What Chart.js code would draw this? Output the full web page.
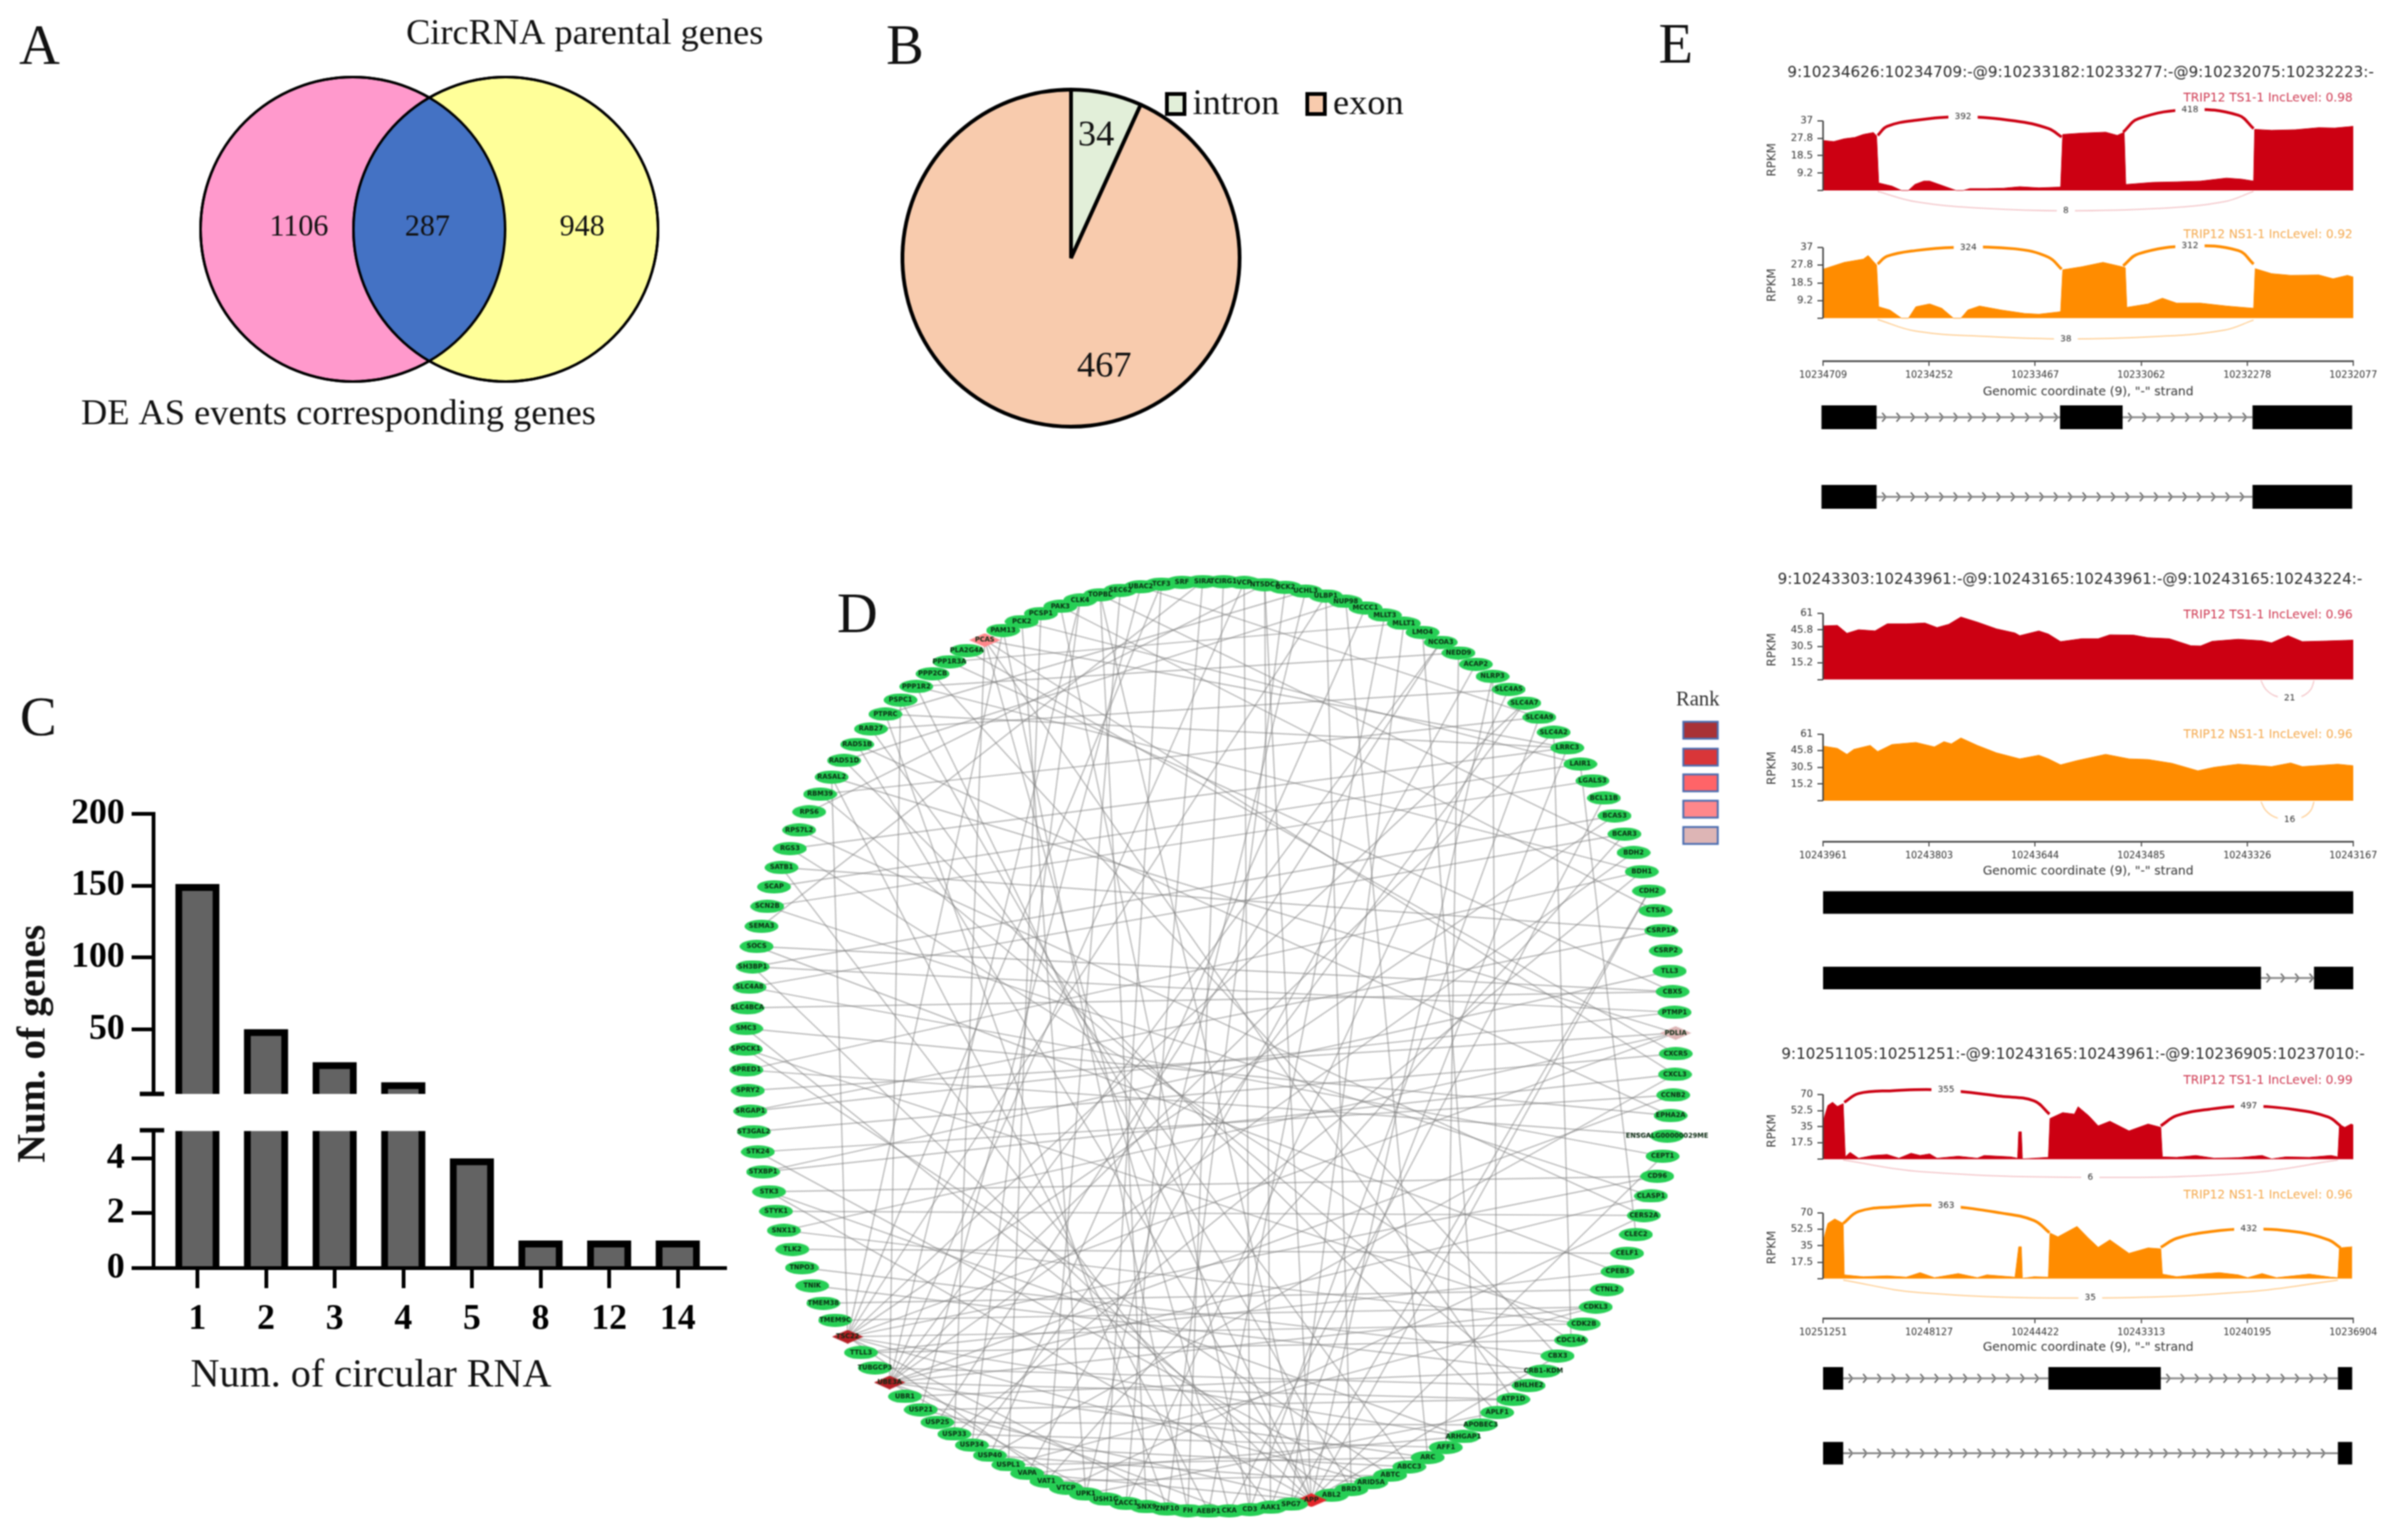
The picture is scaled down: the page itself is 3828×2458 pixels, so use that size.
<!DOCTYPE html>
<html><head><meta charset="utf-8">
<script src="https://cdn.jsdelivr.net/npm/chart.js@4"></script>
<style>html,body{margin:0;padding:0;background:#fff;width:3828px;height:2458px;overflow:hidden;position:relative}canvas{position:absolute;display:block}</style>
</head><body>
<script>
/* ---------- data: panels A, B, C ---------- */
const vennLabels=['DE AS events corresponding genes','CircRNA parental genes'];
const vennCounts=[1106,287,948];
const pieLabels=['intron','exon'];
const pieValues=[34,467];
const circCategories=['1','2','3','4','5','8','12','14'];
const circGenes=[151,50,27,13,4,1,1,1];
const rankColors=['#A83236','#D93639','#FF6468','#FF878B','#DDB5B5'];

/* ---------- data: panel D (read around the ring, clockwise from the top) ---------- */
const nodeNames=['SIRA','TCIRG1','VCP','NT5DC3','UCK2','UCHL3','ULBP1','NUP98','MCCC1','MLLT3','MLLT1','LMO4','NCOA3','NEDD9',
'ACAP2','NLRP3','SLC4A5','SLC4A7','SLC4A9','SLC4A2','LRRC3','LAIR1','LGALS3','BCL11B','BCAS3','BCAR3','BDH2','BDH1','CDH2','CTSA','CSRP1A','CSRP2','TLL3','CBX5','PTMP1','PDLIA',
'CXCR5','CXCL3','CCNB2','EPHA2A','ENSGALG00000029ME','CEPT1','CD96','CLASP1','CERS2A','CLEC2','CELF1','CPEB3','CTNL2','CDKL3','CDK2B','CDC14A','CBX3','CRB1-KDM','BHLHE2','ATP1D','APLF1','APOBEC3','ARHGAP1','AFF1','ARC','ABCC3','ABTC','ARID5A','BRD3','ABL2','APP',
'SPG7','AAK1','CD3','CKA','AEBP1','FH','ZNF10','SNX9','LACC1','USH1G','UPK1','VTCP','VAT1','VAPA','USPL1','USP40','USP34','USP33','USP25','USP21','UBR1','UBE3A','TUBGCP3','TTLL3','TSC22','TMEM9C','TMEM38','TNIK','TNPO3','TLK2','SNX13','STYK1','STK3','STXBP1','STK24','ST3GAL2','SRGAP1','SPRY2','SPRED1','SPOCK1','SMC3','SLC4BCA','SLC4A8','SH3BP1','SOCS','SEMA3','SCN2B','SCAP','SATB1','RGS3','RPS7L2','RPS6','RBM39','RASAL2','RAD51D','RAD51B','RAB27','PTPRC','PSPC1','PPP1R2','PPP2CB','PPP1R3A','PLA2G4A','PCAS','PAM13','PCK2','PCSP1','PAK3','CLK4','TOPBL','SEC62','UBAC2','TCF3','SRF'];
const rankedNodes={88:0,91:0,66:1,130:3,35:4};
const networkEdges=[[66,122],[66,110],[66,99],[66,86],[66,80],[66,3],[66,15],[66,28],[66,41],[66,52],[66,136],[66,126],
[88,2],[88,12],[88,19],[88,26],[88,38],[88,43],[88,49],[88,55],[88,60],[88,70],[88,76],[88,135],[88,125],
[91,6],[91,17],[91,24],[91,35],[91,42],[91,50],[91,58],[91,63],[91,72],[91,78],[91,139],[91,131],[91,120],
[130,70],[130,55],[130,37],[130,20],[130,84],
[108,33],[109,41],[110,34],[111,33],[107,39],[105,40],[104,35],[103,34],[102,36],[101,38],[100,37],[99,42],[98,44],[97,50],[96,46],[95,52],[94,53],[93,48],[92,49],[90,47],[89,54],[87,53],[86,55],[85,57],[84,59],[83,61],[82,63],[81,60],[80,58],[79,62],[77,56],
[0,75],[1,72],[2,69],[3,68],[4,73],[5,77],[6,64],[7,60],[8,82],[9,71],[10,67],[11,57],[12,85],[13,59],[14,80],[15,56],[16,75],[17,83],[18,69],[19,51],[20,68],[21,45],[23,70],[25,79],[27,84],[28,67],[131,72],[132,77],[133,81],[134,69],[135,83],[136,74],[137,79],[138,86],[139,76],
[0,112],[3,118],[5,124],[7,121],[10,128],[13,126],[16,123],[18,119],[20,116],[22,113],[25,109],[27,105],[30,103],[32,100],[35,97],[21,114],[24,110],[134,29],[136,26],[138,18],[132,21],[129,36],[128,33],[126,27],[124,20],[122,39],[120,35],[117,44],[115,30],[113,43],[111,47],[106,50],[116,51],[119,54],[121,56],[123,61],[125,64],[127,52],
[37,82],[44,78],[49,81],[51,90],[62,106],[65,107],[68,115],[71,120],[73,124],[63,101],[58,99]];

/* ---------- data: panel E, [position 0-1000, RPKM] ---------- */
const covA1=[[0,26.6],[20,26],[40,27.5],[60,28.2],[76,29.8],[95,30.8],[101,29],[105,4],[130,2.3],[148,0],[161,0],[173,3.2],[190,5],[201,5],[228,2.3],[251,0],[264,0],[277,1],[309,1],[340,1.2],[371,2],[407,1.4],[448,1.8],[452,29.8],[488,30.5],[533,31],[555,29.3],[568,31],[571,3.2],[622,4.3],[667,4.6],[712,5],[761,6.6],[790,6],[812,5],[814,32.5],[846,32],[891,32.3],[935,33.4],[965,33.2],[1000,34.1]];
const covA2=[[0,25.7],[40,29.3],[76,31],[85,32.9],[101,27.9],[105,6],[126,4.3],[148,0],[161,0],[175,6],[201,7.5],[224,5.2],[246,0],[260,0],[273,4.3],[295,6.4],[336,4.3],[380,2.5],[407,2.1],[448,3.4],[452,25.4],[488,27],[528,29.3],[564,27],[570,26.5],[573,5.7],[613,7.5],[640,10.5],[667,7.9],[712,7.9],[761,6.4],[812,5.2],[815,26],[846,23.4],[882,22.5],[935,22.7],[962,20.7],[989,22.5],[1000,21.6]];
const covB1=[[0,49.5],[27,50],[45,42.7],[67,46],[98,44.9],[121,51.4],[157,51.4],[192,52.2],[215,48],[237,51],[260,57.7],[291,53],[327,46.8],[362,43],[371,40.5],[407,44.9],[425,42],[448,35],[488,37.7],[519,37.7],[541,41.3],[586,41],[613,38.6],[653,37.7],[694,31.2],[712,31],[734,35.3],[783,37.2],[828,35.8],[846,33.9],[877,40.5],[904,35],[950,35.6],[1000,36.4]];
const covB2=[[0,50],[27,47.9],[45,42.4],[58,47],[89,50.6],[103,45],[130,51.4],[175,53.3],[210,49.2],[228,54],[242,52],[260,57.4],[291,50.6],[327,43.8],[371,38.3],[407,41.6],[425,38.3],[448,32.8],[479,36.7],[533,42.4],[577,38.3],[613,37.7],[658,34.2],[707,27.4],[738,30.6],[783,33.4],[846,31.2],[882,34.5],[904,31.2],[971,33.4],[1000,32]];
const covC1=[[0,40.8],[9,58],[18,61.5],[27,57],[38,60],[42,2.5],[51,7.3],[67,1],[94,4],[121,5],[143,1],[166,6.4],[183,4],[201,5.7],[215,1],[255,3.2],[291,1],[304,4],[354,2.5],[367,1],[369,29.6],[374,29.6],[376,0.3],[398,1],[425,2],[428,44],[452,50.3],[474,48.7],[481,56.7],[501,47],[519,36],[541,41],[577,30.6],[613,38],[637,34.4],[640,2.5],[667,2],[703,4],[738,1],[783,1.6],[828,4],[846,0.3],[873,2.5],[917,2],[958,4],[971,2.5],[974,37.6],[984,34.4],[996,38],[1000,37]];
const covC2=[[0,39.8],[9,58.9],[22,63.7],[38,58.9],[40,4],[76,2],[121,3],[157,1.6],[183,6.4],[210,1],[255,5.4],[291,1],[309,4],[362,1.6],[369,34],[374,34],[376,0.3],[398,2],[425,1.6],[428,48.7],[443,44.6],[479,55.7],[501,43],[519,33.4],[541,41.4],[577,27],[613,32.8],[637,31.8],[640,4.8],[667,2],[712,4.8],[747,6.4],[783,4],[801,1],[828,5.4],[855,1],[917,4.8],[958,1.6],[971,1],[974,32.8],[998,34]];

const arcsA1=[[[103,29.3],[121,34.1],[175,37.3],[264,39.1],[362,37],[425,32.9],[450,28.4]],[[566,31],[595,38.2],[692,43],[783,40],[812,32.9]],[[103,-0.5],[175,-6],[309,-9.6],[458,-10.8],[631,-9.6],[756,-6],[812,-0.5]]];
const arcsA2=[[[103,28.4],[121,32.5],[175,35.5],[246,37.1],[362,36.4],[425,32],[450,25.7]],[[566,27.5],[595,33.8],[692,37.9],[783,35.5],[812,28.4]],[[103,-0.7],[175,-6.8],[309,-9.6],[458,-10.9],[631,-9.6],[756,-6.3],[812,-1]]];
const arcsB1=[[[826,-1],[835,-9],[852,-15],[880,-17.5],[905,-15],[920,-9],[926,-1]]];
const arcsB2=[[[826,-1],[835,-9],[852,-15],[880,-17.5],[905,-15],[920,-9],[926,-1]]];
const arcsC1=[[[40,61.5],[67,71],[130,74],[219,75],[336,68],[398,63],[427,48.7]],[[637,36],[667,47],[729,54],[801,57.3],[891,53.5],[953,45.5],[976,36]],[[38,-1],[183,-13.4],[504,-19.7],[801,-15],[971,-1]]];
const arcsC2=[[[38,58.9],[67,71.6],[130,76.4],[219,78],[336,70],[398,62],[427,49]],[[637,33.4],[667,43],[729,50],[801,53],[891,50],[953,41.4],[976,32.8]],[[38,-1.6],[183,-15],[504,-20.7],[801,-14],[971,-1.6]]];

const arcTextA1=[['392',264,39.1],['418',692,43],['8',458,-10.8]];
const arcTextA2=[['324',274,37.1],['312',692,37.9],['38',458,-10.9]];
const arcTextB1=[['21',880,-17.5]];
const arcTextB2=[['16',880,-17.5]];
const arcTextC1=[['355',232,75],['497',803,57.3],['6',504,-19.7]];
const arcTextC2=[['363',232,78],['432',803,53],['35',504,-20.7]];

const rpkmTicksA=[0,9.2,18.5,27.8,37];
const rpkmTicksB=[0,15.2,30.5,45.8,61];
const rpkmTicksC=[0,17.5,35,52.5,70];
const coordTicksA=['10234709','10234252','10233467','10233062','10232278','10232077'];
const coordTicksB=['10243961','10243803','10243644','10243485','10243326','10243167'];
const coordTicksC=['10251251','10248127','10244422','10243313','10240195','10236904'];
const exonsA=[[[-3,101],[447,565],[810,998]],[[-3,101],[810,998]]];
const exonsB=[[[0,1000]],[[0,826],[926,1000]]];
const exonsC=[[[0,38],[425,637],[971,998]],[[0,38],[971,998]]];

/* ---------- helpers ---------- */
const SERIF='"Liberation Serif"', SANS='"DejaVu Sans"';
function notesPlugin(box,items){return {id:'notes',afterDatasetsDraw(chart){
  const ctx=chart.ctx;
  for(const n of items){
    ctx.save();
    if(n.rect){
      ctx.fillStyle=n.fill;ctx.fillRect(n.rect[0]-box.x,n.rect[1]-box.y,n.rect[2],n.rect[3]);
      if(n.stroke){ctx.strokeStyle=n.stroke;ctx.lineWidth=n.lw;ctx.strokeRect(n.rect[0]-box.x,n.rect[1]-box.y,n.rect[2],n.rect[3]);}
    }else{
      const x=n.sx!==undefined?chart.scales.x.getPixelForValue(n.sx):n.x-box.x;
      const y=n.sy!==undefined?chart.scales.y.getPixelForValue(n.sy):n.y-box.y;
      ctx.font=n.font;ctx.textAlign=n.align||'center';ctx.textBaseline='middle';
      ctx.translate(x,y);if(n.rot)ctx.rotate(n.rot);
      if(n.bg){const w=ctx.measureText(n.t).width+n.pad*2;ctx.fillStyle=n.bg;ctx.fillRect(-w/2,-9,w,18);}
      ctx.fillStyle=n.color||'#111';
      if(n.w)ctx.fillText(n.t,0,0,n.w);else ctx.fillText(n.t,0,0);
    }
    ctx.restore();
  }
}};}
function mk(box,cfg,blur,items){
  const c=document.createElement('canvas');
  c.width=box.w;c.height=box.h;
  c.style.left=box.x+'px';c.style.top=box.y+'px';c.style.width=box.w+'px';c.style.height=box.h+'px';
  if(blur)c.style.filter='blur('+blur+'px)';
  document.body.appendChild(c);
  cfg.options=cfg.options||{};
  Object.assign(cfg.options,{responsive:false,maintainAspectRatio:false,animation:false,devicePixelRatio:1,events:[]});
  cfg.options.layout=Object.assign({autoPadding:false},cfg.options.layout||{});
  cfg.options.plugins=Object.assign({legend:{display:false},tooltip:{enabled:false}},cfg.options.plugins||{});
  cfg.plugins=(cfg.plugins||[]).concat(items?[notesPlugin(box,items)]:[]);
  return new Chart(c,cfg);
}

/* ---------- panel A ---------- */
(function(){
  const box={x:0,y:0,w:1300,h:760};
  const cx=685,cy=366,half=122,rPx=243;
  const lens={id:'lens',afterDatasetsDraw(chart){
    const pts=chart.getDatasetMeta(0).data,ctx=chart.ctx;
    const a=pts[0],b=pts[1];
    ctx.save();ctx.beginPath();ctx.arc(a.x,a.y,rPx,0,Math.PI*2);ctx.clip();
    ctx.beginPath();ctx.arc(b.x,b.y,rPx,0,Math.PI*2);ctx.fillStyle='#4472C4';ctx.fill();ctx.restore();
    ctx.save();ctx.strokeStyle='#000';ctx.lineWidth=4;
    for(const p of [a,b]){ctx.beginPath();ctx.arc(p.x,p.y,rPx,0,Math.PI*2);ctx.stroke();}
    ctx.restore();
  }};
  const f48='48px '+SERIF,f58='58px '+SERIF,f90='90px '+SERIF;
  mk(box,{type:'bubble',plugins:[lens],data:{datasets:[{data:[{x:-1,y:0,r:rPx},{x:1,y:0,r:rPx}],backgroundColor:['#FF99CC','#FFFF99'],borderColor:'#000',borderWidth:4,clip:false}]},
    options:{layout:{padding:0},scales:{
      x:{type:'linear',display:false,min:(box.x-cx)/half,max:(box.x+box.w-cx)/half},
      y:{type:'linear',display:false,min:-(box.h-cy)/half,max:cy/half}}}},0.8,[
    {t:'A',x:63,y:78,font:f90},
    {t:vennLabels[1],x:933,y:55,font:f58},
    {t:vennLabels[0],x:540,y:662,font:f58},
    {t:String(vennCounts[0]),x:477,y:363,font:f48},
    {t:String(vennCounts[1]),x:682,y:363,font:f48},
    {t:String(vennCounts[2]),x:929,y:363,font:f48}]);
})();

/* ---------- panel B ---------- */
(function(){
  const box={x:1400,y:20,w:900,h:720};
  const f58='58px '+SERIF;
  mk(box,{type:'pie',data:{labels:pieLabels,datasets:[{data:pieValues,backgroundColor:['#E2EFD9','#F8CBAD'],borderColor:'#000',borderWidth:6}]},
    options:{layout:{padding:{left:37,top:120,right:319,bottom:56}}}},0.8,[
    {t:'B',x:1444,y:78,font:'90px '+SERIF},
    {t:String(pieValues[0]),x:1749,y:217,font:f58},
    {t:String(pieValues[1]),x:1762,y:586,font:f58},
    {rect:[1862,150,28,32],fill:'#E2EFD9',stroke:'#000',lw:6},
    {rect:[2086,150,28,32],fill:'#F8CBAD',stroke:'#000',lw:6},
    {t:pieLabels[0],x:1903,y:167,font:f58,align:'left'},
    {t:pieLabels[1],x:2127,y:167,font:f58,align:'left'}]);
})();

/* ---------- panel C ---------- */
(function(){
  const xStart=315,xStep=109.5,axisL=245,axisR=1157,capFrom=223,capTo=262;
  const xMin=(axisL-xStart)/xStep,xMax=(axisR-xStart)/xStep;
  const bars=circGenes.map((v,i)=>({x:i,y:v}));
  const tickFont={family:SERIF,weight:'bold',size:57};
  const xBase={type:'linear',min:xMin,max:xMax,offset:false,grid:{offset:false,display:false}};
  const yCommon=(vals,w)=>({type:'linear',position:'left',afterFit(s){s.width=w;},
    afterBuildTicks(s){s.ticks=vals.map(v=>({value:v}));},
    border:{color:'#000',width:6},
    grid:{drawOnChartArea:false,color:'#000',lineWidth:6,tickLength:35},
    ticks:{color:'#000',font:tickFont,padding:11,autoSkip:false,maxRotation:0}});
  const cap=(box,yPx)=>({id:'cap',afterDraw(chart){const c=chart.ctx;c.save();c.strokeStyle='#000';c.lineWidth=7;c.beginPath();c.moveTo(capFrom-box.x,yPx-box.y);c.lineTo(capTo-box.x,yPx-box.y);c.stroke();c.restore();}});
  const upper={x:0,y:1100,w:1200,h:800};
  const yU=yCommon([50,100,150,200],axisL-upper.x);yU.min=5;yU.max=200;
  mk(upper,{type:'bar',plugins:[cap(upper,1746)],data:{datasets:[{data:bars,backgroundColor:'#636363',borderColor:'#000',borderWidth:11,barThickness:70,borderSkipped:'bottom'}]},
    options:{layout:{padding:{top:1299-upper.y,bottom:upper.y+upper.h-1746,right:upper.x+upper.w-axisR}},
      scales:{x:Object.assign({},xBase,{display:false}),y:yU}}},0.8,[
    {t:'C',x:61,y:1150,font:'88px '+SERIF},
    {t:'Num. of genes',x:55,y:1666,font:'bold 63px '+SERIF,rot:-Math.PI/2}]);
  const lower={x:0,y:1760,w:1200,h:460};
  const yL=yCommon([0,2,4],axisL-lower.x);yL.min=0;yL.max=5;
  mk(lower,{type:'bar',plugins:[cap(lower,1804)],data:{datasets:[{data:bars,backgroundColor:'#636363',borderColor:'#000',borderWidth:11,barThickness:70,borderSkipped:'bottom'}]},
    options:{layout:{padding:{top:1804-lower.y,right:lower.x+lower.w-axisR}},
      scales:{
        x:Object.assign({},xBase,{afterFit(s){s.height=lower.y+lower.h-2024;},
          afterBuildTicks(s){s.ticks=circCategories.map((_,i)=>({value:i}));},
          border:{color:'#000',width:6},
          grid:{display:true,offset:false,drawOnChartArea:false,color:'#000',lineWidth:6,tickLength:32},
          ticks:{color:'#000',font:tickFont,padding:16,autoSkip:false,maxRotation:0,callback:v=>circCategories[v]}}),
        y:yL}}},0.8,[
    {t:'Num. of circular RNA',x:592,y:2196,font:'64px '+SERIF}]);
})();

/* ---------- panel D ---------- */
(function(){
  const box={x:1150,y:900,w:1650,h:1558};
  const cx=1932,cy=1670,R=742,N=nodeNames.length,offset=-1;
  const pos=i=>{const t=(i*360/N+offset)*Math.PI/180;return {x:Math.sin(t),y:Math.cos(t)};};
  const mkImg=(w,h,fill,diamond)=>{const c=document.createElement('canvas');c.width=w;c.height=h;const g=c.getContext('2d');g.fillStyle=fill;g.beginPath();
    if(diamond){g.moveTo(0,h/2);g.lineTo(w/2,0);g.lineTo(w,h/2);g.lineTo(w/2,h);g.closePath();}else g.ellipse(w/2,h/2,w/2,h/2,0,0,Math.PI*2);
    g.fill();return c;};
  const ellipse=mkImg(54,21,'#26CF55',false);
  const diamonds=rankColors.map((col,i)=>mkImg(50,22,i===0?'#B51F24':i===1?'#E4262A':col,true));
  const nodeData=nodeNames.map((_,i)=>pos(i));
  const styleOf=i=>rankedNodes[i]!==undefined?diamonds[rankedNodes[i]]:ellipse;
  const datasets=[{type:'scatter',data:nodeData,pointStyle:ctx=>styleOf(ctx.dataIndex),pointRadius:10,clip:false}];
  for(const e of networkEdges){datasets.push({type:'scatter',showLine:true,data:[pos(e[0]),pos(e[1])],borderColor:'rgba(125,125,125,0.5)',borderWidth:2.2,pointRadius:0,clip:false});}
  const labelPlugin={id:'nodeLabels',afterDatasetsDraw(chart){
    const pts=chart.getDatasetMeta(0).data,ctx=chart.ctx;ctx.save();ctx.font='bold 10.5px '+SANS;ctx.textAlign='center';ctx.textBaseline='middle';ctx.fillStyle='#0b2a12';
    pts.forEach((p,i)=>ctx.fillText(nodeNames[i],p.x,p.y));ctx.restore();}};
  const swatchY=[1152,1195,1236,1278,1320];
  const items=[{t:'D',x:1368,y:985,font:'90px '+SERIF},{t:'Rank',x:2709,y:1117,font:'33px '+SERIF,color:'#333'}]
    .concat(rankColors.map((col,i)=>({rect:[2686,swatchY[i],55,27],fill:col,stroke:'#4A6DB0',lw:3})));
  mk(box,{type:'scatter',plugins:[labelPlugin],data:{datasets},options:{layout:{padding:0},scales:{
    x:{type:'linear',display:false,min:(box.x-cx)/R,max:(box.x+box.w-cx)/R},
    y:{type:'linear',display:false,min:-(box.y+box.h-cy)/R,max:(cy-box.y)/R}}}},1.0,items);
})();

/* ---------- panel E ---------- */
(function(){
  const left=2909,right=3755,cLeft=2800,cRight=3828,RED='#CC0012',ORG='#FF8C00',PAD=14;
  function track(o){
    const box={x:cLeft,y:o.top,w:cRight-cLeft,h:o.bottom-o.top};
    const vTop=o.ticks[o.ticks.length-1];
    const ppu=(o.base-o.y37)/vTop;
    const areaTop=o.top+PAD;
    const areaBottom=o.axisY||(o.bottom-PAD);
    const ds=[];
    o.arcs.forEach(a=>ds.push({type:'scatter',showLine:true,tension:0.4,data:a.map(p=>({x:p[0],y:p[1]})),borderColor:a[0][1]<=0?o.pale:o.color,borderWidth:a[0][1]<=0?2:4.5,pointRadius:0,clip:false}));
    ds.push({type:'scatter',showLine:true,tension:0,data:o.cov.map(p=>({x:p[0],y:p[1]})),borderColor:o.color,backgroundColor:o.color,borderWidth:1,pointRadius:0,fill:'origin',clip:false});
    const axisLine={id:'yAxisLine',afterDraw(chart){const s=chart.scales.y,c=chart.ctx;c.save();c.strokeStyle='#444';c.lineWidth=2.5;c.beginPath();c.moveTo(s.right,s.getPixelForValue(vTop));c.lineTo(s.right,s.getPixelForValue(0));c.stroke();c.restore();}};
    const notes=[{t:o.label,x:3754,y:o.labelY,font:'20px '+SANS,color:o.labelColor,align:'right',w:270},
      {t:'RPKM',x:2828,y:o.rpkmY,font:'19px '+SANS,color:'#444',rot:-Math.PI/2,w:54}]
      .concat(o.arcText.map(a=>({t:a[0],sx:a[1],sy:a[2],font:'14px '+SANS,color:'#333',bg:'#fff',pad:10})))
      .concat(o.extra||[]);
    const xCfg={type:'linear',min:0,max:1000,display:!!o.axisY};
    if(o.axisY){Object.assign(xCfg,{afterFit(s){s.height=o.bottom-o.axisY;},
      afterBuildTicks(s){s.ticks=o.coord.map((_,i)=>({value:i*200}));},
      border:{color:'#555',width:3},grid:{drawOnChartArea:false,color:'#555',lineWidth:2,tickLength:8},
      ticks:{color:'#333',font:{family:SANS,size:15},padding:6,autoSkip:false,maxRotation:0,callback:v=>o.coord[v/200]}});}
    mk(box,{type:'scatter',plugins:[axisLine],data:{datasets:ds},options:{layout:{padding:{top:PAD,bottom:o.axisY?0:PAD,right:cRight-right}},scales:{
      x:xCfg,
      y:{type:'linear',position:'left',min:-(areaBottom-o.base)/ppu,max:vTop+(o.y37-areaTop)/ppu,afterFit(s){s.width=left-cLeft;},
        afterBuildTicks(s){s.ticks=o.ticks.map(v=>({value:v}));},
        border:{display:false},grid:{drawOnChartArea:false,color:'#444',lineWidth:2,tickLength:9},
        ticks:{color:'#333',font:{family:SANS,size:16},padding:7,autoSkip:false,maxRotation:0,callback:v=>v===0?'':String(v)}}}}},1.2,notes);
  }
  function genes(top,bottom,r1,r2,h,rows){
    const box={x:cLeft,y:top,w:cRight-cLeft,h:bottom-top};
    const unit=r2-r1;
    const ds=[];
    rows.forEach((row,ri)=>{
      const yv=1-ri;
      row.forEach(e=>ds.push({type:'scatter',showLine:true,data:[{x:e[0],y:yv},{x:e[1],y:yv}],borderColor:'#000',borderWidth:h,borderCapStyle:'butt',pointRadius:0,clip:false}));
    });
    const chev=document.createElement('canvas');chev.width=10;chev.height=16;const g=chev.getContext('2d');g.strokeStyle='#555';g.lineWidth=2;g.beginPath();g.moveTo(2,1);g.lineTo(8,8);g.lineTo(2,15);g.stroke();
    rows.forEach((row,ri)=>{
      const yv=1-ri;
      for(let k=0;k<row.length-1;k++){
        const a=row[k][1],b=row[k+1][0];
        ds.push({type:'scatter',showLine:true,data:[{x:a,y:yv},{x:b,y:yv}],borderColor:'#888',borderWidth:3,pointRadius:0,clip:false});
        const marks=[];for(let x=a+14;x<b-4;x+=27)marks.push({x,y:yv});
        ds.push({type:'scatter',data:marks,pointStyle:chev,pointRadius:8,clip:false});
      }
    });
    mk(box,{type:'scatter',data:{datasets:ds},options:{layout:{padding:{left:left-cLeft,right:cRight-right}},scales:{
      x:{type:'linear',display:false,min:0,max:1000},
      y:{type:'linear',display:false,min:-(bottom-r2)/unit,max:1+(r1-top)/unit}}}},1.2);
  }
  const lblR='#CF3A52',lblO='#F4A94E',paleR='rgba(204,0,18,0.22)',paleO='rgba(255,140,0,0.42)';
  const gt=(t,x,y,w)=>({t,x,y,w,font:'25px '+SANS,color:'#2a2a2a'});
  const ct=y=>({t:'Genomic coordinate (9), "-" strand',x:3332,y,font:'20px '+SANS,color:'#333',w:336});

  track({top:20,bottom:355,y37:193,base:306,ticks:rpkmTicksA,cov:covA1,arcs:arcsA1,arcText:arcTextA1,color:RED,pale:paleR,label:'TRIP12 TS1-1 IncLevel: 0.98',labelColor:lblR,labelY:157,rpkmY:255,
    extra:[gt('9:10234626:10234709:-@9:10233182:10233277:-@9:10232075:10232223:-',3320,116,936)]});
  track({top:355,bottom:680,y37:393,base:507,axisY:576,ticks:rpkmTicksA,cov:covA2,arcs:arcsA2,arcText:arcTextA2,coord:coordTicksA,color:ORG,pale:paleO,label:'TRIP12 NS1-1 IncLevel: 0.92',labelColor:lblO,labelY:375,rpkmY:455,extra:[ct(626)]});
  genes(640,830,666,793,38,exonsA);

  track({top:900,bottom:1150,y37:978,base:1086,ticks:rpkmTicksB,cov:covB1,arcs:arcsB1,arcText:arcTextB1,color:RED,pale:paleR,label:'TRIP12 TS1-1 IncLevel: 0.96',labelColor:lblR,labelY:982,rpkmY:1037,
    extra:[gt('9:10243303:10243961:-@9:10243165:10243961:-@9:10243165:10243224:-',3303,925,933)]});
  track({top:1150,bottom:1420,y37:1169,base:1277,axisY:1343,ticks:rpkmTicksB,cov:covB2,arcs:arcsB2,arcText:arcTextB2,coord:coordTicksB,color:ORG,pale:paleO,label:'TRIP12 NS1-1 IncLevel: 0.96',labelColor:lblO,labelY:1173,rpkmY:1226,extra:[ct(1391)]});
  genes(1405,1600,1440.5,1561,36,exonsB);

  track({top:1660,bottom:1895,y37:1746,base:1852,ticks:rpkmTicksC,cov:covC1,arcs:arcsC1,arcText:arcTextC1,color:RED,pale:paleR,label:'TRIP12 TS1-1 IncLevel: 0.99',labelColor:lblR,labelY:1725,rpkmY:1805,
    extra:[gt('9:10251105:10251251:-@9:10243165:10243961:-@9:10236905:10237010:-',3308,1683,931)]});
  track({top:1880,bottom:2180,y37:1934,base:2040,axisY:2104,ticks:rpkmTicksC,cov:covC2,arcs:arcsC2,arcText:arcTextC2,coord:coordTicksC,color:ORG,pale:paleO,label:'TRIP12 NS1-1 IncLevel: 0.96',labelColor:lblO,labelY:1908,rpkmY:1991,extra:[ct(2151)]});
  genes(2165,2360,2200,2319.5,36,exonsC);
})();

/* panel E letter */
(function(){
  const box={x:2640,y:20,w:120,h:110};
  mk(box,{type:'scatter',data:{datasets:[]},options:{scales:{x:{display:false},y:{display:false}}}},0.8,[{t:'E',x:2674,y:76,font:'90px '+SERIF}]);
})();
</script>
</body></html>
